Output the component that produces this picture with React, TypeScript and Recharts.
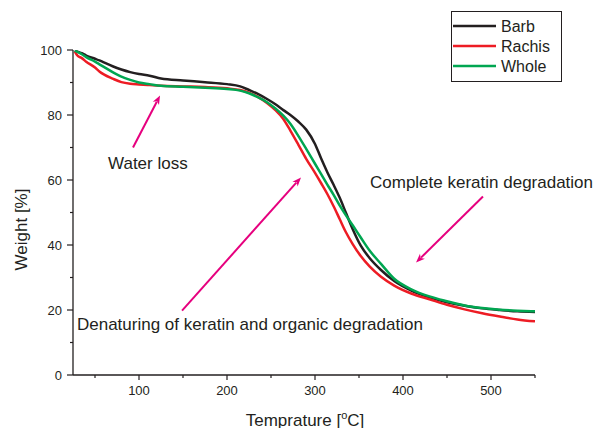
import React from 'react';
import { LineChart, Line, XAxis, YAxis, ReferenceLine, ReferenceDot, Legend } from 'recharts';

const temperatures = [27, 30, 35, 40, 50, 55, 60, 70, 80, 90, 100, 112, 125, 150, 175, 200, 215, 225, 235, 245, 255, 264, 272, 281, 290, 300, 307, 314, 321, 328, 335, 343, 352, 362, 375, 390, 410, 430, 450, 470, 490, 510, 530, 550];
const barb = [99.8, 99.5, 99.0, 98.3, 97.3, 96.8, 96.2, 95.0, 94.0, 93.2, 92.6, 92.1, 91.2, 90.6, 90.1, 89.5, 88.8, 87.7, 86.5, 85.0, 83.3, 81.5, 80.0, 78.0, 75.5, 71.1, 66.6, 62.4, 58.6, 54.6, 50.0, 44.8, 39.8, 36.0, 32.3, 28.9, 25.9, 23.9, 22.4, 21.3, 20.5, 20.0, 19.6, 19.4];
const rachis = [99.6, 98.3, 97.5, 96.4, 94.6, 93.4, 92.5, 91.2, 90.1, 89.6, 89.4, 89.2, 89.0, 88.8, 88.6, 88.2, 87.7, 86.9, 85.6, 83.8, 81.5, 78.8, 75.2, 70.9, 66.5, 62.2, 59.0, 55.7, 52.0, 48.0, 44.0, 40.2, 36.6, 33.4, 30.2, 27.5, 25.0, 23.3, 21.6, 20.2, 19.0, 18.0, 17.1, 16.5];
const whole = [99.8, 99.4, 98.7, 97.8, 96.4, 95.6, 94.8, 93.2, 91.8, 90.8, 90.0, 89.5, 89.0, 88.7, 88.4, 88.0, 87.5, 86.7, 85.5, 84.0, 82.0, 79.8, 77.3, 73.6, 69.6, 65.0, 61.8, 58.6, 55.5, 52.2, 49.2, 46.0, 42.3, 38.3, 34.2, 29.6, 26.3, 24.2, 22.7, 21.4, 20.6, 20.1, 19.8, 19.6];

const seriesNames = ['Barb', 'Rachis', 'Whole'];
const seriesColors = ['#231F20', '#ED1C24', '#00A651'];

const xTicks = [50, 100, 150, 200, 250, 300, 350, 400, 450, 500, 550];
const xLabelTicks = [100, 200, 300, 400, 500];
const yTicks = [0, 10, 20, 30, 40, 50, 60, 70, 80, 90, 100];
const yLabelTicks = [0, 20, 40, 60, 80, 100];

const annotationTexts = ['Water loss', 'Denaturing of keratin and organic degradation', 'Complete keratin degradation'];
const annotationTextAt = [[64.8, 63.5], [29.5, 14], [362.5, 57.4]];
const arrowFrom = [[93.2, 70], [148.9, 19.8], [490.9, 54.9]];
const arrowTo = [[123.9, 86], [284.1, 60.8], [414.8, 34.6]];

const data = temperatures.map((t, i) => ({ t, Barb: barb[i], Rachis: rachis[i], Whole: whole[i] }));

const FONT = '"Liberation Sans", Arial, Helvetica, sans-serif';
const INK = '#231F20';
const MAGENTA = '#E6007E';

const XTick = (props: any) => {
  const { x, y, payload } = props;
  const v = payload.value;
  const major = v % 100 === 0;
  return (
    <g>
      <line x1={x} y1={y} x2={x} y2={y + (major ? 5 : 3)} stroke={INK} strokeWidth={1.2} />
      {xLabelTicks.includes(v) && (
        <text x={x} y={y + 20} textAnchor="middle" fontFamily={FONT} fontSize={13} fill={INK}>{v}</text>
      )}
    </g>
  );
};

const YTick = (props: any) => {
  const { x, y, payload } = props;
  const v = payload.value;
  const major = v % 20 === 0;
  return (
    <g>
      <line x1={x - (major ? 6 : 3)} y1={y} x2={x} y2={y} stroke={INK} strokeWidth={1.2} />
      {yLabelTicks.includes(v) && (
        <text x={x - 11} y={y + 4.6} textAnchor="end" fontFamily={FONT} fontSize={13} fill={INK}>{v}</text>
      )}
    </g>
  );
};

const ArrowShape = (props: any) => {
  const { x1, y1, x2, y2 } = props;
  const dx = x2 - x1;
  const dy = y2 - y1;
  const len = Math.sqrt(dx * dx + dy * dy) || 1;
  const ux = dx / len;
  const uy = dy / len;
  const headL = 9;
  const headW = 3.5;
  const bx = x2 - ux * headL;
  const by = y2 - uy * headL;
  const px = -uy;
  const py = ux;
  return (
    <g>
      <line x1={x1} y1={y1} x2={bx + ux * 2} y2={by + uy * 2} stroke={MAGENTA} strokeWidth={2} />
      <polygon
        points={`${x2},${y2} ${bx + px * headW},${by + py * headW} ${bx + ux * 2.5},${by + uy * 2.5} ${bx - px * headW},${by - py * headW}`}
        fill={MAGENTA}
      />
    </g>
  );
};

const makeTextShape = (label: string) => (props: any) => (
  <text x={props.cx} y={props.cy} fontFamily={FONT} fontSize={17} fill={INK}>{label}</text>
);

const LegendBox = () => (
  <svg width={112} height={72} style={{ display: 'block' }}>
    <rect x={0.5} y={0.5} width={110} height={70} fill="#fff" stroke={INK} strokeWidth={1} />
    {seriesNames.map((n, i) => (
      <g key={n}>
        <line x1={2} x2={45} y1={15 + i * 20} y2={15 + i * 20} stroke={seriesColors[i]} strokeWidth={2.5} />
        <text x={50} y={20.8 + i * 20} fontFamily={FONT} fontSize={16} fill={INK}>{n}</text>
      </g>
    ))}
  </svg>
);

const XTitle = (props: any) => {
  const vb = props.viewBox;
  const cx = vb.x + vb.width / 2;
  return (
    <text x={cx + 1} y={vb.y + 50.5} textAnchor="middle" fontFamily={FONT} fontSize={17} fill={INK}>
      Temprature [<tspan fontSize={11} dy={-7}>o</tspan><tspan dy={7}>C]</tspan>
    </text>
  );
};

const YTitle = (props: any) => {
  const vb = props.viewBox;
  const cy = vb.y + vb.height / 2 + 17;
  return (
    <text x={27} y={cy} transform={`rotate(-90, 27, ${cy})`} textAnchor="middle" fontFamily={FONT} fontSize={17} fill={INK}>
      Weight [%]
    </text>
  );
};

export default function App() {
  return (
    <div style={{ position: 'absolute', left: 0, top: 0, width: 593, height: 428, background: '#fff' }}>
      <LineChart width={593} height={428} data={data} margin={{ top: 50, right: 58, bottom: 23, left: 28 }}>
        <XAxis
          dataKey="t"
          type="number"
          domain={[25, 550]}
          ticks={xTicks}
          interval={0}
          tick={<XTick />}
          tickLine={false}
          tickSize={0}
          tickMargin={0}
          height={30}
          axisLine={{ stroke: INK, strokeWidth: 1.3 }}
          allowDataOverflow
          label={<XTitle />}
        />
        <YAxis
          type="number"
          domain={[0, 100]}
          ticks={yTicks}
          interval={0}
          tick={<YTick />}
          tickLine={false}
          tickSize={0}
          tickMargin={0}
          width={45}
          axisLine={{ stroke: INK, strokeWidth: 1.3 }}
          allowDataOverflow
          label={<YTitle />}
        />
        {seriesNames.map((n, i) => (
          <Line
            key={n}
            dataKey={n}
            name={n}
            type="monotone"
            stroke={seriesColors[i]}
            strokeWidth={2.5}
            dot={false}
            activeDot={false}
            isAnimationActive={false}
          />
        ))}
        {annotationTexts.map((txt, i) => (
          <ReferenceLine
            key={'a' + i}
            segment={[{ x: arrowFrom[i][0], y: arrowFrom[i][1] }, { x: arrowTo[i][0], y: arrowTo[i][1] }]}
            ifOverflow="visible"
            shape={ArrowShape}
          />
        ))}
        {annotationTexts.map((txt, i) => (
          <ReferenceDot
            key={'t' + i}
            x={annotationTextAt[i][0]}
            y={annotationTextAt[i][1]}
            ifOverflow="visible"
            shape={makeTextShape(txt)}
          />
        ))}
        <Legend
          layout="vertical"
          align="center"
          verticalAlign="middle"
          content={() => <LegendBox />}
          wrapperStyle={{ position: 'absolute', left: 451, top: 11, width: 112, height: 72, margin: 0, padding: 0 }}
        />
      </LineChart>
    </div>
  );
}
